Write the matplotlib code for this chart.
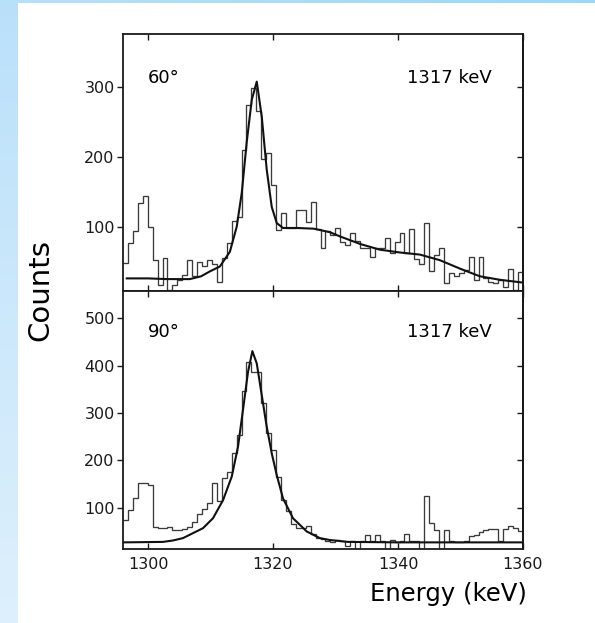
import matplotlib

matplotlib.use("Agg")
import matplotlib.pyplot as plt
import numpy as np

# ── Spectrum data (counts per channel, 81 channels over 1296-1360 keV) ───────

E_MIN, E_MAX = 1296.0, 1360.0
N_CHANNELS = 81

counts_60 = [
    48, 76, 94, 133, 144, 100, 52, 17, 55, 9,
    17, 24, 31, 52, 30, 50, 44, 52, 46, 21,
    55, 77, 108, 114, 209, 273, 298, 265, 196, 205,
    159, 95, 120, 98, 98, 124, 123, 106, 135, 97,
    69, 94, 88, 98, 78, 74, 91, 80, 70, 70,
    57, 70, 70, 84, 62, 78, 91, 62, 96, 53,
    47, 105, 37, 59, 69, 19, 34, 30, 34, 38,
    57, 23, 57, 26, 21, 19, 24, 14, 40, 9,
    35,
]

counts_90 = [
    74, 95, 120, 152, 152, 148, 60, 58, 58, 59,
    53, 54, 56, 60, 71, 87, 98, 110, 152, 114,
    164, 175, 215, 254, 347, 409, 387, 387, 321, 257,
    222, 166, 116, 93, 65, 57, 58, 62, 45, 36,
    35, 30, 28, 31, 29, 19, 29, 14, 29, 43,
    29, 43, 29, 14, 31, 28, 29, 45, 30, 29,
    14, 124, 68, 54, 14, 54, 29, 27, 27, 29,
    41, 43, 49, 53, 55, 55, 29, 55, 62, 58,
    50,
]

# fitted line shapes, sampled along energy
fit_60_energy = [
    1296.6, 1300.0, 1303.0, 1306.7, 1308.5, 1309.9, 1311.5, 1313.1, 1314.2,
    1315.0, 1315.8, 1316.6, 1317.4, 1318.2, 1319.0, 1319.8, 1320.6, 1321.6,
    1323.8, 1326.5, 1329.1, 1330.7, 1334.0, 1337.1, 1340.3, 1343.5, 1346.7,
    1349.9, 1353.1, 1356.3, 1360.0,
]
fit_60_counts = [
    26, 26, 25, 25, 29, 36, 43, 64, 100,
    148, 221, 281, 307, 257, 181, 128, 105, 98,
    98, 97, 92, 86, 75, 67, 63, 60, 52,
    40, 29, 24, 20,
]

fit_90_energy = [
    1296.0, 1302.4, 1304.0, 1305.6, 1308.8, 1310.4, 1312.0, 1313.4, 1314.4,
    1315.2, 1316.0, 1316.7, 1317.4, 1318.2, 1319.0, 1319.8, 1320.6, 1321.6,
    1323.2, 1325.4, 1327.5, 1329.1, 1332.0, 1340.0, 1360.0,
]
fit_90_counts = [
    27, 28, 31, 36, 57, 78, 116, 166, 229,
    307, 387, 431, 405, 338, 271, 215, 169, 120,
    78, 50, 36, 32, 28, 27, 27,
]

angles = ["60°", "90°"]
line_label = "1317 keV"
y_limits = [(8, 375), (13, 558)]
y_ticks = [[100, 200, 300], [100, 200, 300, 400, 500]]
x_ticks = [1300, 1320, 1340, 1360]

HIST_COLOR = "#3a3a3a"
FIT_COLOR = "#111111"
SPINE_COLOR = "#1a1a1a"


def draw_background(fig):
    # pale blue frame strips on the left and top edges
    h, w = 623, 595
    img = np.ones((h, w, 3))
    rows = np.linspace(0, 1, h)[:, None]
    top_c = np.array([0.73, 0.88, 0.98])
    bot_c = np.array([0.87, 0.94, 0.99])
    left = top_c + (bot_c - top_c) * rows
    img[:, :18, :] = left[:, None, :]
    cols = np.linspace(0, 1, w)[:, None]
    l_c = np.array([0.72, 0.88, 0.98])
    r_c = np.array([0.60, 0.85, 0.98])
    img[:3, :, :] = (l_c + (r_c - l_c) * cols)[None, :, :]
    bg = fig.add_axes([0, 0, 1, 1], zorder=-10)
    bg.imshow(img, aspect="auto", interpolation="bilinear")
    bg.axis("off")


def main() -> None:
    fig = plt.figure(figsize=(5.95, 6.23), dpi=100)
    draw_background(fig)

    edges = np.linspace(E_MIN, E_MAX, N_CHANNELS + 1)
    left, width = 123 / 595, 400 / 595
    ax_top = fig.add_axes([left, 1 - 291 / 623, width, 257 / 623])
    ax_bot = fig.add_axes([left, 1 - 549 / 623, width, 258 / 623])

    series = [
        (counts_60, fit_60_energy, fit_60_counts),
        (counts_90, fit_90_energy, fit_90_counts),
    ]
    label_y = [0.829, 0.841]

    for i, (ax, (counts, fit_e, fit_c)) in enumerate(zip([ax_top, ax_bot], series)):
        ax.set_facecolor("white")
        ax.stairs(counts, edges, color=HIST_COLOR, lw=0.95, baseline=None)
        ax.plot(fit_e, fit_c, color=FIT_COLOR, lw=1.5)

        ax.set_xlim(E_MIN, E_MAX)
        ax.set_ylim(*y_limits[i])
        ax.set_xticks(x_ticks)
        ax.set_yticks(y_ticks[i])

        for sp in ax.spines.values():
            sp.set_linewidth(1.3)
            sp.set_color(SPINE_COLOR)

        ax.tick_params(axis="x", direction="in", top=True, bottom=True,
                       length=4, width=1, labelsize=11.5, pad=6,
                       labelbottom=(i == 1), colors=SPINE_COLOR)
        ax.tick_params(axis="y", direction="out", left=True, right=False,
                       length=4, width=1, labelsize=11.5, pad=2,
                       colors=SPINE_COLOR)
        sec = ax.secondary_yaxis("right")
        sec.set_yticks(y_ticks[i])
        sec.tick_params(direction="in", length=4, width=1, labelright=False,
                        colors=SPINE_COLOR)
        sec.spines["right"].set_linewidth(1.3)

        ax.text(0.0625, label_y[i], angles[i], transform=ax.transAxes,
                fontsize=13, va="center", ha="left")
        ax.text(0.922, label_y[i], line_label, transform=ax.transAxes,
                fontsize=13, va="center", ha="right")

    fig.text(40 / 595, 1 - 290 / 623, "Counts", rotation=90, fontsize=21,
             ha="center", va="center")
    fig.text(527 / 595, 1 - 594 / 623, "Energy (keV)", fontsize=17.5,
             ha="right", va="center")

    fig.savefig("out.png", dpi=100)
    plt.close(fig)


if __name__ == "__main__":
    main()
